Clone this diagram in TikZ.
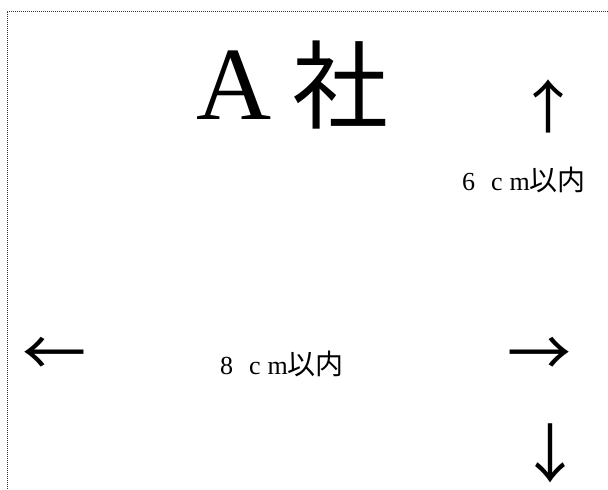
\documentclass[tikz,border=0pt]{standalone}
\usepackage{fontspec}
\setmainfont{Liberation Serif}
\newfontfamily\cjk{Noto Sans CJK JP}
\usepackage{tikz}
\usetikzlibrary{positioning}

\tikzset{
  arrowch/.style={font=\cjk\fontsize{64}{64}\selectfont, inner sep=0pt},
  sizetext/.style={font=\fontsize{26}{26}\selectfont, inner sep=0pt, anchor=base west}
}
\newcommand{\jp}[1]{{\cjk\fontsize{28}{28}\selectfont #1}}

\begin{document}
\begin{tikzpicture}[x=1pt, y=-1pt]
  \useasboundingbox (0,0) rectangle (608,490);
  \draw[line width=1pt, dash pattern=on 1pt off 1pt, black!80] (608,11) -- (7,11) -- (7,490);
  \node[inner sep=0pt, anchor=base west, font=\fontsize{104}{104}\selectfont] (letter) at (196,119) {A};
  \node[inner sep=0pt, font=\cjk\fontsize{96}{96}\selectfont] (sha) at (340,85) {社};
  \node[arrowch, yscale=0.9] (up) at (548,106) {↑};
  \node[sizetext] (h) at (462,190) {6\hspace{16pt}c\hspace{7pt}m\jp{以内}};
  \node[arrowch] (left) at (54,357) {←};
  \node[sizetext] (w) at (220,374) {8\hspace{16pt}c\hspace{7pt}m\jp{以内}};
  \node[arrowch] (right) at (539,357) {→};
  \node[arrowch] (down) at (550,453) {↓};
\end{tikzpicture}
\end{document}
